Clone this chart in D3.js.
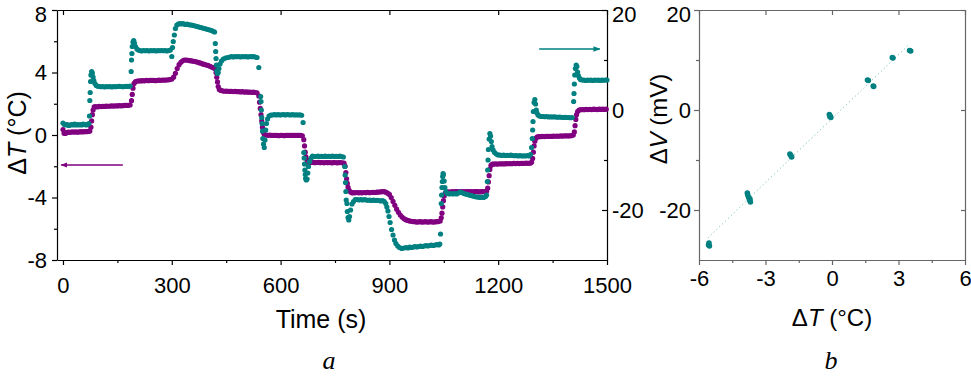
<!DOCTYPE html>
<html>
<head>
<meta charset="utf-8">
<script src="https://cdn.jsdelivr.net/npm/d3@7"></script>
<style>
  body { margin: 0; background: #fff; }
  svg text { font-family: "Liberation Sans", Arial, sans-serif; fill: #000; }
  .tick text { font-size: 22px; }
</style>
</head>
<body>
<div id="chart"></div>
<script>
// panel a: temperature difference (left axis, °C) against time (s)
var tempSeries = [
  [0,0.35],[3,0.12],[6,0.1],[10,0.15],[15,0.18],[20,0.17],[25,0.2],[30,0.19],[35,0.2],[40,0.18],[45,0.2],[50,0.21],[55,0.2],[60,0.22],[65,0.21],[70,0.23],[74,0.25],
  [77,0.5],[79,0.9],[81,1.3],[83,1.6],[86,1.8],
  [90,1.82],[95,1.8],[100,1.83],[105,1.82],[110,1.84],[115,1.83],[120,1.85],[125,1.84],[130,1.85],[135,1.86],[140,1.85],[145,1.87],[150,1.86],[155,1.88],[160,1.87],[165,1.88],[170,1.9],[175,1.89],[180,1.9],[185,1.92],
  [189,2.2],[191,2.6],[193,3.0],[196,3.3],[200,3.42],
  [205,3.45],[210,3.47],[215,3.46],[220,3.48],[225,3.47],[230,3.49],[235,3.48],[240,3.5],[245,3.49],[250,3.5],[255,3.48],[260,3.5],[265,3.51],[270,3.5],[275,3.52],[280,3.51],[285,3.52],[290,3.53],[295,3.55],[300,3.58],
  [305,3.7],[310,3.95],[315,4.25],[320,4.5],[325,4.65],[330,4.75],[335,4.8],[340,4.8],[345,4.78],
  [350,4.76],[355,4.74],[360,4.72],[365,4.7],[370,4.67],[375,4.63],[380,4.6],[385,4.55],[390,4.52],[395,4.48],[400,4.45],[405,4.4],[410,4.35],[415,4.3],[419,4.25],
  [422,4.0],[424,3.7],[426,3.4],[428,3.1],[431,2.92],[435,2.85],
  [440,2.83],[445,2.8],[450,2.81],[455,2.8],[460,2.79],[465,2.8],[470,2.78],[475,2.79],[480,2.77],[485,2.78],[490,2.76],[495,2.77],[500,2.75],[505,2.76],[510,2.74],[515,2.75],[520,2.73],[525,2.74],[530,2.72],[535,2.7],
  [540,2.5],[542,2.1],[544,1.7],[546,1.3],[548,0.9],[550,0.5],[552,0.2],[555,0.05],
  [560,0.0],[565,-0.02],[570,0.0],[575,-0.03],[580,-0.02],[585,-0.03],[590,-0.02],[595,-0.04],[600,-0.03],[605,-0.02],[610,-0.04],[615,-0.03],[620,-0.02],[625,-0.03],[630,-0.02],[635,-0.03],[640,-0.02],[645,-0.03],[650,-0.02],[655,-0.03],[660,-0.05],
  [664,-0.3],[666,-0.7],[668,-1.1],[670,-1.4],[673,-1.6],[677,-1.72],
  [680,-1.74],[685,-1.76],[690,-1.75],[695,-1.77],[700,-1.76],[705,-1.75],[710,-1.77],[715,-1.76],[720,-1.78],[725,-1.76],[730,-1.77],[735,-1.76],[740,-1.78],[745,-1.77],[750,-1.76],[755,-1.78],[760,-1.77],[765,-1.76],[770,-1.78],[775,-1.8],
  [778,-2.0],[780,-2.4],[782,-2.8],[784,-3.1],[786,-3.35],[789,-3.55],[793,-3.65],
  [797,-3.7],[800,-3.69],[805,-3.7],[810,-3.68],[815,-3.7],[820,-3.69],[825,-3.7],[830,-3.68],[835,-3.69],[840,-3.67],[845,-3.69],[850,-3.68],[855,-3.67],[860,-3.68],[865,-3.66],[870,-3.65],[875,-3.64],[880,-3.62],[885,-3.63],[890,-3.66],[895,-3.72],
  [900,-3.8],[905,-4.0],[910,-4.25],[915,-4.5],[920,-4.75],[925,-4.95],[930,-5.12],[935,-5.25],[940,-5.35],[945,-5.42],[950,-5.47],[955,-5.5],[960,-5.52],
  [965,-5.54],[970,-5.55],[975,-5.57],[980,-5.56],[985,-5.55],[990,-5.57],[995,-5.56],[1000,-5.55],[1005,-5.57],[1010,-5.56],[1015,-5.55],[1020,-5.57],[1025,-5.56],[1030,-5.55],[1035,-5.54],[1040,-5.5],
  [1043,-5.3],[1045,-5.0],[1047,-4.6],[1049,-4.2],[1051,-3.9],[1054,-3.72],
  [1058,-3.66],[1063,-3.64],[1068,-3.65],[1073,-3.63],[1078,-3.64],[1083,-3.62],[1088,-3.63],[1093,-3.64],[1098,-3.62],[1103,-3.63],[1108,-3.64],[1113,-3.62],[1118,-3.63],[1123,-3.62],[1128,-3.64],[1133,-3.63],[1138,-3.62],[1143,-3.63],[1148,-3.64],[1153,-3.63],[1158,-3.62],[1163,-3.63],[1168,-3.6],
  [1171,-3.4],[1173,-3.0],[1175,-2.6],[1177,-2.2],[1180,-1.95],[1184,-1.87],
  [1188,-1.86],[1193,-1.85],[1198,-1.86],[1203,-1.84],[1208,-1.85],[1213,-1.84],[1218,-1.85],[1223,-1.83],[1228,-1.84],[1233,-1.83],[1238,-1.84],[1243,-1.82],[1248,-1.83],[1253,-1.82],[1258,-1.83],[1263,-1.81],[1268,-1.82],[1273,-1.81],[1278,-1.8],[1283,-1.81],[1288,-1.8],[1292,-1.75],
  [1295,-1.5],[1297,-1.1],[1299,-0.7],[1301,-0.4],[1304,-0.2],[1308,-0.12],
  [1312,-0.1],[1317,-0.11],[1322,-0.09],[1327,-0.1],[1332,-0.08],[1337,-0.09],[1342,-0.08],[1347,-0.09],[1352,-0.07],[1357,-0.08],[1362,-0.07],[1367,-0.08],[1372,-0.06],[1377,-0.07],[1382,-0.06],[1387,-0.05],[1392,-0.06],[1397,-0.05],[1402,-0.04],[1407,0.0],
  [1410,0.2],[1412,0.6],[1414,1.0],[1416,1.3],[1419,1.5],[1423,1.6],
  [1428,1.62],[1433,1.63],[1438,1.62],[1443,1.64],[1448,1.63],[1453,1.64],[1458,1.63],[1463,1.65],[1468,1.64],[1473,1.63],[1478,1.65],[1483,1.64],[1488,1.65],[1493,1.64],[1498,1.65]
];

// panel a: voltage (right axis, mV) against time (s)
var voltSeries = [
  [0,-2.6],[4,-2.9],[8,-3.0],[12,-2.9],[16,-3.1],[20,-3.0],[24,-2.9],[28,-3.0],[32,-2.8],[36,-3.0],[40,-2.9],[44,-3.0],[48,-2.9],[52,-3.0],[56,-2.8],[60,-2.9],[64,-3.0],[68,-2.9],[71,-2.7],
  [73,-1.2],[74,1.9],[75,3.5],[76,5.7],[77,7.0],[79,7.7],[81,7.4],[83,6.6],[85,5.9],[88,5.3],[92,4.9],[96,4.75],
  [100,4.7],[105,4.65],[110,4.7],[115,4.6],[120,4.7],[125,4.65],[130,4.7],[135,4.6],[140,4.7],[145,4.65],[150,4.7],[155,4.75],[160,4.7],[165,4.65],[170,4.7],[175,4.75],[180,4.7],[185,4.8],
  [188,7.7],[189,10.0],[190,11.3],[191,12.7],[193,13.6],[195,13.9],[197,13.4],[200,12.7],[204,12.2],[208,12.0],
  [212,11.9],[217,11.8],[222,11.9],[227,11.85],[232,11.9],[237,11.8],[242,11.9],[247,11.85],[252,11.9],[257,11.8],[262,11.9],[267,11.85],[272,11.9],[277,11.85],[282,11.9],[287,11.8],[292,11.9],[296,12.0],
  [300,10.7],[302,12.5],[304,13.7],[307,15.0],[310,16.3],[314,17.0],[318,17.2],[322,17.3],[326,17.2],[330,17.3],[334,17.2],[338,17.1],[342,17.2],[346,17.1],[350,17.0],[355,17.0],[360,16.9],[365,16.8],[370,16.7],[375,16.6],[380,16.5],[385,16.4],[390,16.3],[395,16.2],[400,16.1],[405,16.0],[410,15.9],[415,15.7],[418,15.6],
  [420,13.3],[421,11.7],[422,10.3],[423,9.0],[424,7.8],[426,7.3],[428,7.5],[430,8.3],[433,9.2],[437,9.8],[442,10.2],[448,10.4],[454,10.5],
  [460,10.6],[465,10.7],[470,10.6],[475,10.7],[480,10.65],[485,10.7],[490,10.6],[495,10.7],[500,10.65],[505,10.7],[510,10.6],[515,10.7],[520,10.65],[525,10.7],[530,10.6],[535,10.5],
  [540,8.5],[545,2.7],[546,1.7],[547,0.0],[548,-1.5],[549,-2.7],[550,-4.2],[551,-5.7],[553,-6.8],[555,-7.5],[557,-6.0],[559,-4.0],[561,-2.7],[564,-1.8],[568,-1.2],[573,-1.0],
  [578,-1.0],[583,-0.9],[588,-1.0],[593,-0.9],[598,-1.0],[603,-0.95],[608,-0.9],[613,-1.0],[618,-0.9],[623,-0.95],[628,-1.0],[633,-0.9],[638,-1.0],[643,-0.95],[648,-1.0],[653,-0.95],[658,-1.05],
  [662,-2.5],[664,-8.5],[665,-9.6],[666,-10.8],[667,-12.0],[668,-12.9],[669,-13.7],[671,-14.0],[673,-13.8],[675,-12.6],[677,-11.3],[680,-10.3],[684,-9.6],[688,-9.2],[693,-9.3],
  [698,-9.3],[703,-9.2],[708,-9.3],[713,-9.25],[718,-9.3],[723,-9.2],[728,-9.3],[733,-9.25],[738,-9.3],[743,-9.2],[748,-9.3],[753,-9.25],[758,-9.3],[763,-9.2],[768,-9.3],[773,-9.4],
  [777,-11.3],[778,-13.0],[779,-14.5],[780,-16.3],[781,-18.0],[783,-18.7],[784,-20.3],[786,-21.5],[788,-22.0],[790,-21.3],[793,-20.0],[797,-18.8],[801,-18.3],[806,-17.9],[811,-17.9],
  [816,-18.0],[821,-17.9],[826,-18.0],[831,-17.9],[836,-18.0],[841,-18.05],[846,-18.0],[851,-18.1],[856,-18.0],[861,-18.1],[866,-18.05],[871,-18.1],[876,-18.2],[881,-18.1],[886,-18.3],
  [890,-18.7],[893,-19.4],[896,-20.2],[899,-21.3],[902,-22.5],[906,-23.9],[910,-25.0],[914,-26.0],[918,-26.7],[923,-27.2],[928,-27.5],[934,-27.7],[940,-27.6],
  [946,-27.5],[951,-27.6],[956,-27.4],[961,-27.5],[966,-27.4],[971,-27.3],[976,-27.4],[981,-27.3],[986,-27.2],[991,-27.3],[996,-27.2],[1001,-27.1],[1006,-27.2],[1011,-27.1],[1016,-27.0],[1021,-27.1],[1026,-27.0],[1031,-26.9],[1036,-27.0],[1039,-26.8],
  [1041,-24.8],[1043,-18.7],[1044,-17.0],[1045,-15.5],[1046,-14.3],[1047,-13.3],[1048,-12.7],[1049,-12.9],[1051,-14.2],[1053,-15.5],[1056,-16.3],[1060,-16.7],[1065,-16.8],
  [1070,-16.7],[1075,-16.8],[1080,-16.7],[1085,-16.8],[1090,-16.6],[1095,-16.4],[1100,-16.5],[1105,-16.7],[1110,-16.8],[1115,-16.9],[1120,-17.0],[1125,-17.1],[1130,-17.2],[1135,-17.3],[1140,-17.4],[1145,-17.4],[1150,-17.5],[1155,-17.4],[1160,-17.5],[1165,-17.3],[1168,-17.0],
  [1170,-14.3],[1171,-12.0],[1172,-10.0],[1173,-7.9],[1175,-5.8],[1177,-4.7],[1179,-5.2],[1181,-6.3],[1183,-7.3],[1186,-8.0],[1190,-8.5],[1195,-8.8],[1200,-9.0],
  [1205,-9.0],[1210,-9.1],[1215,-9.0],[1220,-9.1],[1225,-9.05],[1230,-9.1],[1235,-9.0],[1240,-9.1],[1245,-9.15],[1250,-9.1],[1255,-9.2],[1260,-9.1],[1265,-9.2],[1270,-9.15],[1275,-9.2],[1280,-9.1],[1285,-9.2],[1289,-8.9],
  [1292,-7.5],[1294,-5.7],[1295,-4.0],[1296,-2.3],[1297,-0.3],[1299,1.5],[1301,2.1],[1303,1.2],[1305,0.0],[1307,-0.6],[1310,-1.0],[1314,-1.2],[1319,-1.3],
  [1324,-1.3],[1329,-1.35],[1334,-1.3],[1339,-1.4],[1344,-1.35],[1349,-1.4],[1354,-1.35],[1359,-1.4],[1364,-1.45],[1369,-1.4],[1374,-1.45],[1379,-1.5],[1384,-1.45],[1389,-1.5],[1394,-1.5],[1399,-1.55],[1404,-1.5],
  [1408,1.7],[1409,3.3],[1410,5.2],[1411,7.0],[1413,8.3],[1415,9.0],[1417,8.7],[1419,7.6],[1421,6.9],[1424,6.4],[1427,6.1],[1431,6.0],
  [1436,6.0],[1441,5.9],[1446,6.0],[1451,5.95],[1456,6.0],[1461,5.9],[1466,6.0],[1471,5.95],[1476,6.0],[1481,5.9],[1486,6.0],[1491,5.95],[1496,6.0],[1500,6.0]
];

// panel b: steady voltage vs temperature difference
var scatterPts = [
  [-5.57,-27.0],[-5.55,-26.6],[-5.53,-27.2],
  [-3.82,-16.6],[-3.8,-17.0],[-3.76,-17.5],[-3.72,-18.0],[-3.68,-18.4],[-3.7,-17.8],
  [-1.9,-8.8],[-1.86,-9.1],[-1.82,-9.4],
  [-0.12,-0.9],[-0.08,-1.2],[-0.05,-1.5],[-0.1,-1.3],
  [1.6,6.0],[1.64,5.9],
  [1.86,4.8],[1.88,4.7],
  [2.72,10.5],[2.75,10.4],
  [3.5,11.9],[3.55,11.8]
];
var fitEnds = [[-5.6,-25.6],[3.5,13.2]];

// ticks
var timeTicks = [0, 300, 600, 900, 1200, 1500];
var timeMinor = [150, 450, 750, 1050, 1350];
var tempTicks = [-8, -4, 0, 4, 8];
var tempMinor = [-6, -2, 2, 6];
var voltTicks = [-20, 0, 20];
var voltMinor = [-10, 10];
var dTTicks = [-6, -3, 0, 3, 6];
var dTMinor = [-4.5, -1.5, 1.5, 4.5];

// arrows saying which axis belongs to which series: [x0, x1, y]
var arrowT = [165, -5, -1.92];
var arrowV = [1313, 1480, 12.2];

var purple = "#800080";
var teal = "#008080";

var svg = d3.select("#chart").append("svg")
    .attr("width", 971)
    .attr("height", 377);

var defs = svg.append("defs");
[["headT", purple], ["headV", teal]].forEach(function (m) {
    defs.append("marker")
        .attr("id", m[0])
        .attr("viewBox", "0 0 10 10")
        .attr("refX", 9).attr("refY", 5)
        .attr("markerWidth", 5).attr("markerHeight", 5)
        .attr("orient", "auto")
        .append("path")
        .attr("d", "M0,1L10,5L0,9z")
        .attr("fill", m[1]);
});

//----------------------------------------------------------------------
// panel a
var x = d3.scaleLinear().domain([-16.5, 1500]).range([57, 607]);
var yT = d3.scaleLinear().domain([-8, 8]).range([260, 10]);
var yV = d3.scaleLinear().domain([-30, 20]).range([260, 10]);
var fmt = function (d) { return String(d); };

function styleAxis(g, col) {
    g.selectAll("path,line").attr("stroke", col).attr("stroke-width", 1.2);
    g.selectAll("text").attr("fill", "#000");
}
// the top label of a y axis sits a bit lower so it stays inside the page
function lowerTop(g, top) {
    g.selectAll(".tick text").filter(function (d) { return d === top; }).attr("dy", "0.5em");
}

var ga = svg.append("g");

ga.append("g").attr("transform", "translate(0,260)")
    .call(d3.axisBottom(x).tickValues(timeTicks).tickSize(5).tickSizeOuter(0).tickPadding(12).tickFormat(fmt))
    .call(styleAxis, "#000");
ga.append("g").attr("transform", "translate(0,260)")
    .call(d3.axisBottom(x).tickValues(timeMinor).tickSize(3).tickFormat(""))
    .call(function (g) { g.select(".domain").remove(); })
    .call(styleAxis, "#000");
ga.append("g").attr("transform", "translate(0,10)")
    .call(d3.axisTop(x).tickValues(timeTicks).tickSize(-5).tickSizeOuter(0).tickFormat(""))
    .call(styleAxis, "#000");

ga.append("g").attr("transform", "translate(57,0)")
    .call(d3.axisLeft(yT).tickValues(tempTicks).tickSize(5).tickSizeOuter(0).tickPadding(5).tickFormat(fmt))
    .call(styleAxis, "#000")
    .call(lowerTop, 8);
ga.append("g").attr("transform", "translate(57,0)")
    .call(d3.axisLeft(yT).tickValues(tempMinor).tickSize(3).tickFormat(""))
    .call(function (g) { g.select(".domain").remove(); })
    .call(styleAxis, "#000");

ga.append("g").attr("transform", "translate(607,0)")
    .call(d3.axisRight(yV).tickValues(voltTicks).tickSize(-5).tickSizeOuter(0).tickPadding(5).tickFormat(fmt))
    .call(styleAxis, "#000")
    .call(lowerTop, 20);
ga.append("g").attr("transform", "translate(607,0)")
    .call(d3.axisRight(yV).tickValues(voltMinor).tickSize(-3).tickFormat(""))
    .call(function (g) { g.select(".domain").remove(); })
    .call(styleAxis, "#000");

// data points
ga.append("g").selectAll("circle")
    .data(tempSeries).enter().append("circle")
    .attr("cx", function (d) { return x(d[0]); })
    .attr("cy", function (d) { return yT(d[1]); })
    .attr("r", 2.6)
    .attr("fill", purple);

ga.append("g").selectAll("circle")
    .data(voltSeries).enter().append("circle")
    .attr("cx", function (d) { return x(d[0]); })
    .attr("cy", function (d) { return yV(d[1]); })
    .attr("r", 2.6)
    .attr("fill", teal);

// axis arrows
ga.append("line")
    .attr("x1", x(arrowT[0])).attr("x2", x(arrowT[1]))
    .attr("y1", yT(arrowT[2])).attr("y2", yT(arrowT[2]))
    .attr("stroke", purple).attr("stroke-width", 1.4)
    .attr("marker-end", "url(#headT)");
ga.append("line")
    .attr("x1", x(arrowV[0])).attr("x2", x(arrowV[1]))
    .attr("y1", yV(arrowV[2])).attr("y2", yV(arrowV[2]))
    .attr("stroke", teal).attr("stroke-width", 1.4)
    .attr("marker-end", "url(#headV)");

// titles
var tl = ga.append("text")
    .attr("transform", "translate(26,133) rotate(-90)")
    .attr("text-anchor", "middle")
    .attr("font-size", 25);
tl.append("tspan").text("Δ");
tl.append("tspan").attr("font-style", "italic").text("T");
tl.append("tspan").text(" (°C)");

ga.append("text")
    .attr("x", 321).attr("y", 328)
    .attr("text-anchor", "middle")
    .attr("font-size", 25)
    .text("Time (s)");

//----------------------------------------------------------------------
// panel b
var xb = d3.scaleLinear().domain([-6, 6]).range([699, 965]);
var yb = d3.scaleLinear().domain([-30, 20]).range([260, 10]);
var gray = "#666";

var gb = svg.append("g");

gb.append("g").attr("transform", "translate(0,260)")
    .call(d3.axisBottom(xb).tickValues(dTTicks).tickSize(5).tickSizeOuter(0).tickPadding(5).tickFormat(fmt))
    .call(styleAxis, gray);
gb.append("g").attr("transform", "translate(0,260)")
    .call(d3.axisBottom(xb).tickValues(dTMinor).tickSize(3).tickFormat(""))
    .call(function (g) { g.select(".domain").remove(); })
    .call(styleAxis, gray);
gb.append("g").attr("transform", "translate(0,10)")
    .call(d3.axisTop(xb).tickValues(dTTicks).tickSize(-5).tickSizeOuter(0).tickFormat(""))
    .call(styleAxis, gray);

gb.append("g").attr("transform", "translate(699,0)")
    .call(d3.axisLeft(yb).tickValues(voltTicks).tickSize(5).tickSizeOuter(0).tickPadding(3).tickFormat(fmt))
    .call(styleAxis, gray)
    .call(lowerTop, 20);
gb.append("g").attr("transform", "translate(699,0)")
    .call(d3.axisLeft(yb).tickValues(voltMinor).tickSize(3).tickFormat(""))
    .call(function (g) { g.select(".domain").remove(); })
    .call(styleAxis, gray);
gb.append("g").attr("transform", "translate(965,0)")
    .call(d3.axisRight(yb).tickValues(voltTicks).tickSize(-4).tickSizeOuter(0).tickFormat(""))
    .call(styleAxis, gray);

// fit line
gb.append("path")
    .datum(fitEnds)
    .attr("d", d3.line().x(function (d) { return xb(d[0]); }).y(function (d) { return yb(d[1]); }))
    .attr("fill", "none")
    .attr("stroke", "#5fb3ae")
    .attr("stroke-width", 1)
    .attr("stroke-dasharray", "1,3");

gb.append("g").selectAll("circle")
    .data(scatterPts).enter().append("circle")
    .attr("cx", function (d) { return xb(d[0]); })
    .attr("cy", function (d) { return yb(d[1]); })
    .attr("r", 2.8)
    .attr("fill", teal);

var tb = gb.append("text")
    .attr("transform", "translate(667,119) rotate(-90)")
    .attr("text-anchor", "middle")
    .attr("font-size", 24);
tb.append("tspan").text("Δ");
tb.append("tspan").attr("font-style", "italic").text("V");
tb.append("tspan").text(" (mV)");

var xt = gb.append("text")
    .attr("x", 832).attr("y", 326)
    .attr("text-anchor", "middle")
    .attr("font-size", 24);
xt.append("tspan").text("Δ");
xt.append("tspan").attr("font-style", "italic").text("T");
xt.append("tspan").text(" (°C)");

// panel letters
svg.selectAll(".cap")
    .data([["a", 329], ["b", 831]])
    .enter().append("text")
    .attr("class", "cap")
    .attr("x", function (d) { return d[1]; })
    .attr("y", 369)
    .attr("text-anchor", "middle")
    .attr("font-size", 26)
    .attr("font-style", "italic")
    .style("font-family", "'Liberation Serif', 'Times New Roman', serif")
    .text(function (d) { return d[0]; });
</script>
</body>
</html>
